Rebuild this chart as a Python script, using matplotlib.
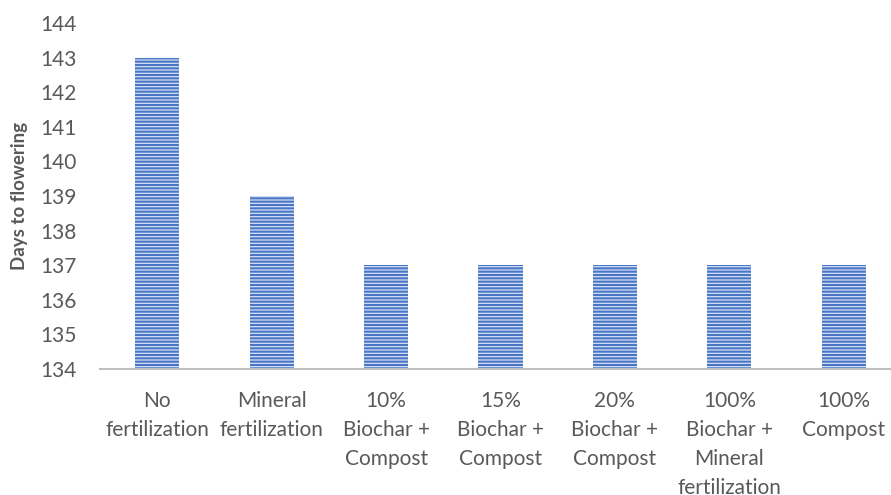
import matplotlib.pyplot as plt

categories = ["No\nfertilization", "Mineral\nfertilization", "10%\nBiochar +\nCompost",
              "15%\nBiochar +\nCompost", "20%\nBiochar +\nCompost",
              "100%\nBiochar +\nMineral\nfertilization", "100%\nCompost"]
days = [143, 139, 137, 137, 137, 137, 137]
yticks = list(range(134, 145))

plt.rcParams['font.family'] = ['Lato', 'DejaVu Sans']
plt.rcParams['hatch.linewidth'] = 1.5

fig = plt.figure(figsize=(8.91, 4.95), dpi=100)
ax = fig.add_axes([100 / 891, 1 - 369 / 495, 801 / 891, 346 / 495])

x = range(len(categories))
ax.bar(x, [d - 134 for d in days], 0.385, bottom=134, color="#d3def3",
       edgecolor="#4a76c6", linewidth=0, hatch="-----")

ax.set_xlim(-0.5, len(categories) - 0.5)
ax.set_ylim(134, 144)
ax.set_yticks(yticks)
ax.set_xticks(list(x))
ax.set_xticklabels(categories, linespacing=1.55)
ax.tick_params(axis="both", length=0, labelsize=15, labelcolor="#595959")
ax.tick_params(axis="x", pad=16)
ax.tick_params(axis="y", pad=17)

for s in ["top", "right", "left"]:
    ax.spines[s].set_visible(False)
ax.spines["bottom"].set_color("#bfbfbf")
ax.spines["bottom"].set_linewidth(1.5)

ax.set_ylabel("Days to flowering", fontsize=13.5, fontweight="bold", color="#595959")
ax.yaxis.set_label_coords(-0.09, 0.5)

fig.savefig("out.png", dpi=100)
